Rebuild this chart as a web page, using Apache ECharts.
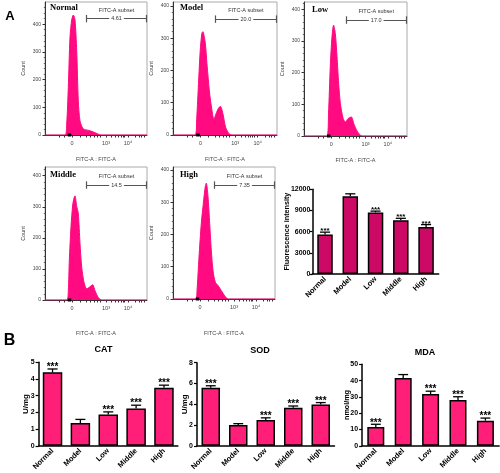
<!DOCTYPE html>
<html><head><meta charset="utf-8">
<script src="https://cdn.jsdelivr.net/npm/echarts@6/dist/echarts.min.js"></script>
<style>html,body{margin:0;padding:0;background:#fff}#c{width:500px;height:473px}</style>
</head><body><div id="c"></div>
<script>
// ===== Flow cytometry histograms: [FITC channel, count] =====
const histGroups = ['Normal', 'Model', 'Low', 'Middle', 'High'];
const histNormal = [[0,0],[200,0],[217,40],[233,171],[250,354],[267,415],[283,433],[300,415],[317,305],[333,124],[350,51],[383,22],[433,17],[483,11],[533,3],[560,0],[1020,0]];
const histModel  = [[0,0],[217,0],[233,54],[250,159],[267,262],[283,315],[293,320],[317,284],[333,221],[360,127],[383,75],[400,49],[427,70],[450,85],[467,88],[490,65],[517,23],[550,4],[583,0],[1020,0]];
const histLow    = [[0,0],[227,0],[243,72],[260,218],[277,313],[293,350],[310,324],[327,250],[343,167],[360,103],[387,56],[410,44],[437,55],[470,60],[493,39],[527,15],[560,2],[580,0],[1020,0]];
const histMiddle = [[0,0],[217,0],[233,30],[243,127],[260,236],[277,306],[290,328],[300,335],[317,301],[333,279],[350,182],[367,106],[390,57],[417,36],[443,41],[477,49],[500,30],[533,8],[567,0],[1020,0]];
const histHigh   = [[0,0],[227,0],[240,26],[260,130],[283,234],[307,307],[323,349],[333,359],[350,318],[367,234],[383,151],[400,88],[423,52],[450,42],[483,26],[517,10],[550,0],[1020,0]];
const histSeries = [histNormal, histModel, histLow, histMiddle, histHigh];
const histCountMax = [480, 412, 423, 428, 409];
const histCountTicks = [0, 100, 200, 300, 400];
const gatePercent = ['4.61', '20.0', '17.0', '14.5', '7.35'];
const gateRange = [415, 1015];
const gateLevel = [420, 359, 366, 370, 353];
const histTickLabels = ['0', '10³', '10⁴'];
const histTickLabelChannels = [270, 610, 830];
const histTickChannels = [143,193,270,350,410,450,490,520,550,610,667,707,737,760,780,797,830,900,940,967,990];
const histMarkerChannel = 245;

// ===== Bar charts =====
const groups = ['Normal', 'Model', 'Low', 'Middle', 'High'];
const fluorMean = [5600, 11030, 8730, 7610, 6660];
const fluorErr  = [330, 330, 180, 280, 340];
const catMean = [4.40, 1.36, 1.87, 2.23, 3.47];
const catErr  = [0.20, 0.22, 0.16, 0.20, 0.16];
const sodMean = [5.58, 2.01, 2.49, 3.65, 3.97];
const sodErr  = [0.20, 0.12, 0.20, 0.18, 0.19];
const mdaMean = [11.6, 41.6, 31.7, 28.1, 15.4];
const mdaErr  = [1.6, 2.1, 1.8, 2.0, 1.6];
const significance = ['***', '', '***', '***', '***'];

// ===== Layout / style =====
const HIST_COLOR = '#ff0a80';
const BAR_PINK = '#ff1f78';
const BAR_DARK = '#cc0a66';
const histLayout = [
  {left:45,  top:2,   width:102, height:133, xGap:21, title:[50,7.5]},
  {left:173, top:2,   width:104, height:133, xGap:21, title:[180,8]},
  {left:304, top:2,   width:103, height:134, xGap:21, title:[312,9.5]},
  {left:45,  top:167, width:102, height:133, xGap:30, title:[50,174.5]},
  {left:173, top:167, width:102, height:132, xGap:31, title:[180,175]}
];

const chart = echarts.init(document.getElementById('c'), null, {renderer:'canvas'});
const grid = [], xAxis = [], yAxis = [], series = [], graphic = [];

histGroups.forEach((g, i) => {
  const L = histLayout[i];
  grid.push({left:L.left, top:L.top, width:L.width, height:L.height, show:true, borderColor:'#aaa', borderWidth:1, backgroundColor:'transparent'});
  xAxis.push({
    type:'value', gridIndex:i, min:0, max:1020,
    name:'FITC-A : FITC-A', nameLocation:'middle', nameGap:L.xGap, nameMoveOverlap:false,
    nameTextStyle:{fontSize:5.5, color:'#444', fontFamily:'Arial'},
    axisLine:{lineStyle:{color:'#333', width:1}},
    axisTick:{customValues:histTickChannels, length:2.5, lineStyle:{color:'#333'}},
    axisLabel:{customValues:histTickLabelChannels, fontSize:5.5, color:'#444', margin:5, fontFamily:'Arial',
      formatter:(v)=>histTickLabels[histTickLabelChannels.indexOf(v)] || ''},
    splitLine:{show:false}
  });
  yAxis.push({
    type:'value', gridIndex:i, min:0, max:histCountMax[i], interval:100,
    name:'Count', nameLocation:'middle', nameGap:19, nameMoveOverlap:false,
    nameTextStyle:{fontSize:5.5, color:'#444', fontFamily:'Arial'},
    axisLine:{show:true, lineStyle:{color:'#333', width:1}},
    axisTick:{show:true, customValues:histCountTicks, length:2.5, lineStyle:{color:'#333'}},
    minorTick:{show:true, splitNumber:5, length:1.2, lineStyle:{color:'#666'}},
    axisLabel:{customValues:histCountTicks, fontSize:5, color:'#444', margin:4, fontFamily:'Arial'},
    splitLine:{show:false}
  });
  const lvl = gateLevel[i];
  const d = histCountMax[i] * 0.028;
  series.push({
    type:'line', xAxisIndex:i, yAxisIndex:i, data:histSeries[i], showSymbol:false, smooth:0.25,
    lineStyle:{color:HIST_COLOR, width:1}, areaStyle:{color:HIST_COLOR, opacity:1}, animation:false,
    markLine:{
      silent:true, symbol:'none', animation:false,
      lineStyle:{color:'#555', width:1.2, type:'solid'},
      label:{show:false},
      data:[
        [{coord:[gateRange[0], lvl], label:{show:true, position:'middle', distance:-3.5,
          formatter:'{a|FITC-A subset}\n{b|' + gatePercent[i] + '}',
          rich:{a:{fontSize:5.5, color:'#333', lineHeight:10, fontFamily:'Arial'},
                b:{fontSize:5.5, color:'#333', lineHeight:7, backgroundColor:'#fff', padding:[0,2], fontFamily:'Arial'}}}},
         {coord:[gateRange[1], lvl]}],
        [{coord:[gateRange[0], lvl - d]}, {coord:[gateRange[0], lvl + d]}],
        [{coord:[gateRange[1], lvl - d]}, {coord:[gateRange[1], lvl + d]}]
      ]
    },
    markPoint:{silent:true, animation:false, symbol:'rect', symbolSize:[3.5,3], itemStyle:{color:'#000'}, label:{show:false},
      data:[{coord:[histMarkerChannel, 0]}]}
  });
  graphic.push({type:'text', x:L.title[0], y:L.title[1], style:{text:g, font:'bold 8.5px "Liberation Serif"', fill:'#000', align:'left', verticalAlign:'middle'}});
});

// bar panels
const makeErr = (sig, capFrac, starSize) => (params, api) => {
  const i = api.value(0), m = api.value(1), e = api.value(2);
  const p0 = api.coord([i, m]);
  const p1 = api.coord([i, m + e]);
  const half = api.size([1, 0])[0] * capFrac;
  const st = {stroke:'#000', lineWidth:1.3};
  const children = [
    {type:'line', shape:{x1:p0[0], y1:p0[1], x2:p1[0], y2:p1[1]}, style:st},
    {type:'line', shape:{x1:p1[0]-half, y1:p1[1], x2:p1[0]+half, y2:p1[1]}, style:st}
  ];
  const s = sig[params.dataIndex];
  if (s) children.push({type:'text', x:p1[0], y:p1[1] + starSize*0.35,
    style:{text:s, fill:'#000', font:'bold ' + starSize + 'px Arial', align:'center', verticalAlign:'bottom'}});
  return {type:'group', children};
};

const barPanels = [
  {mean:fluorMean, err:fluorErr, max:12000, interval:3000, name:'Fluorescence intensity', nameGap:21.5, nameSize:7.2,
   left:312.4, top:189.3, width:126.3, height:84.7, barWidth:15.5, color:BAR_DARK, star:8, cap:0.2, tick:2.5, margin:2},
  {mean:catMean, err:catErr, max:5, interval:1, name:'U/mg', nameGap:8.5, nameSize:8,
   left:38.6, top:362.3, width:139.3, height:84.7, barWidth:19.5, color:BAR_PINK, star:10, cap:0.18, title:'CAT', tx:103.5, ty:350, tick:3, margin:4},
  {mean:sodMean, err:sodErr, max:8, interval:2, name:'U/mg', nameGap:8.5, nameSize:8,
   left:197, top:362.7, width:137.5, height:84.6, barWidth:18.5, color:BAR_PINK, star:10, cap:0.18, title:'SOD', tx:260, ty:350.7, tick:3, margin:4},
  {mean:mdaMean, err:mdaErr, max:50, interval:10, name:'nmol/mg', nameGap:11.5, nameSize:7.2,
   left:362.1, top:364.3, width:137, height:83.4, barWidth:17, color:BAR_PINK, star:10, cap:0.18, title:'MDA', tx:425, ty:352.7, tick:3, margin:4}
];

barPanels.forEach((P, k) => {
  const gi = grid.length;
  grid.push({left:P.left, top:P.top, width:P.width, height:P.height});
  xAxis.push({
    type:'category', gridIndex:gi, data:groups,
    axisLine:{lineStyle:{color:'#000', width:1.5}},
    axisTick:{alignWithLabel:true, length:3, lineStyle:{color:'#000', width:1.2}},
    axisLabel:{rotate:45, fontSize:7.5, fontWeight:'bold', color:'#000', margin:4, fontFamily:'Arial', interval:0}
  });
  yAxis.push({
    type:'value', gridIndex:gi, min:0, max:P.max, interval:P.interval,
    name:P.name, nameLocation:'middle', nameGap:P.nameGap, nameMoveOverlap:false,
    nameTextStyle:{fontSize:P.nameSize, fontWeight:'bold', color:'#000', fontFamily:'Arial'},
    axisLine:{show:true, lineStyle:{color:'#000', width:1.5}},
    axisTick:{show:true, length:P.tick, lineStyle:{color:'#000', width:1.2}},
    axisLabel:{fontSize:7, fontWeight:'bold', color:'#000', margin:P.margin, fontFamily:'Arial', formatter:(v)=>String(v)},
    splitLine:{show:false}
  });
  series.push({
    type:'bar', xAxisIndex:gi, yAxisIndex:gi, data:P.mean, barWidth:P.barWidth, animation:false,
    itemStyle:{color:P.color, borderColor:'#000', borderWidth:1.5}
  });
  series.push({
    type:'custom', xAxisIndex:gi, yAxisIndex:gi, animation:false, z:5,
    encode:{x:0, y:1},
    data:groups.map((g, i) => [i, P.mean[i], P.err[i]]),
    renderItem:makeErr(significance, P.cap, P.star)
  });
  if (P.title) graphic.push({type:'text', x:P.tx, y:P.ty, style:{text:P.title, font:'bold 9px Arial', fill:'#000', align:'center', verticalAlign:'middle'}});
});

graphic.push({type:'text', x:10, y:16.5, style:{text:'A', font:'bold 13px Arial', fill:'#000', align:'center', verticalAlign:'middle'}});
graphic.push({type:'text', x:9.5, y:341, style:{text:'B', font:'bold 16px Arial', fill:'#000', align:'center', verticalAlign:'middle'}});

chart.setOption({animation:false, backgroundColor:'#fff', grid, xAxis, yAxis, series, graphic});
</script></body></html>
